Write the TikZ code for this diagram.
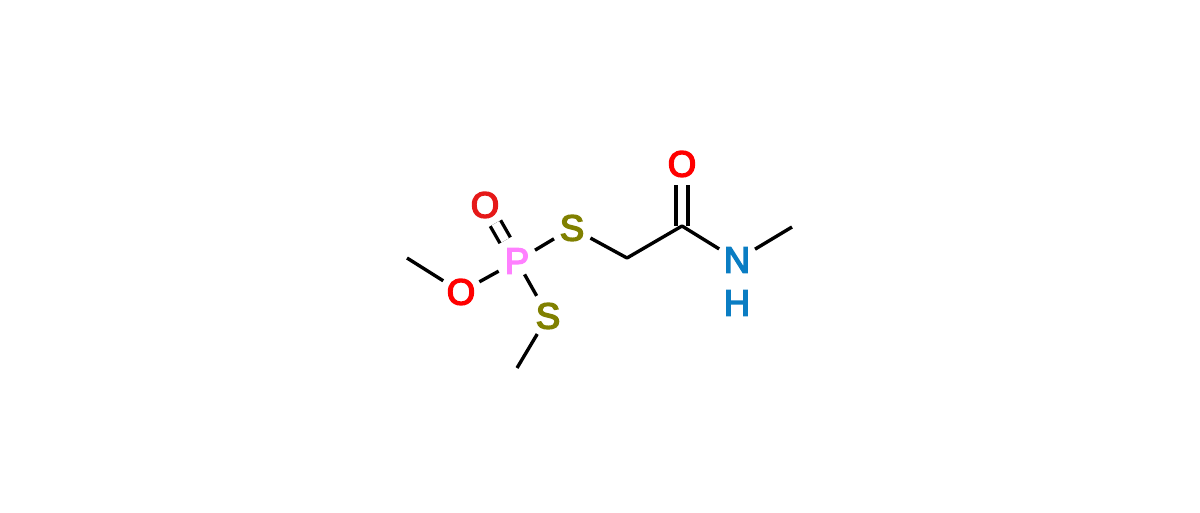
\documentclass[tikz,border=0pt]{standalone}
\usepackage{fontspec}
\newfontfamily\atomfont[FakeBold=4]{Liberation Sans}

\definecolor{atom_o}{RGB}{255,0,0}
\definecolor{atom_p}{RGB}{255,128,255}
\definecolor{atom_s}{RGB}{128,128,0}
\definecolor{atom_n}{RGB}{10,125,195}

\tikzset{
  atom/.style={circle,minimum size=1.05cm,inner sep=0pt,outer sep=0pt,font=\fontsize{26}{26}\atomfont},
  bond/.style={line width=2.4pt,black},
  dbond/.style={line width=2.4pt,black,double=white,double distance=6pt}
}

\begin{document}
\begin{tikzpicture}[x=0.025cm,y=0.025cm]

\useasboundingbox (0,0) rectangle (1200,512) ;

\coordinate (me_o) at (407,254) ;
\coordinate (me_s) at (517,144) ;
\coordinate (ch2) at (627,254) ;
\coordinate (co) at (682,286) ;
\coordinate (me_n) at (792,285) ;

\node[atom,text=atom_o] (o_me) at (461,220) {O} ;
\node[atom,text=atom_p] (p) at (517,251) {P} ;
\node[atom,text=atom_o!80!gray] (o_p) at (485,307) {O} ;
\node[atom,text=atom_s] (s_top) at (572,284) {S} ;
\node[atom,text=atom_s] (s_low) at (548,196) {S} ;
\node[atom,text=atom_o] (o_co) at (682,348) {O} ;
\node[atom,text=atom_n] (n) at (737,252) {N} ;
\node[atom,text=atom_n] (h) at (737,209) {H} ;

\draw[bond] (me_o) -- (o_me) ;
\draw[bond] (o_me) -- (p) ;
\draw[dbond,shorten <=2pt] (p) -- (o_p) ;
\draw[bond] (p) -- (s_top) ;
\draw[bond,shorten <=-4pt,shorten >=1.5pt] (p) -- (s_low) ;
\draw[bond] (s_low) -- (me_s) ;

\draw[dbond] (o_co) -- (co) ;
\draw[bond,line join=round] (s_top) -- (ch2) -- (co) -- (n) ;
\draw[bond] (n) -- (me_n) ;

\end{tikzpicture}
\end{document}
